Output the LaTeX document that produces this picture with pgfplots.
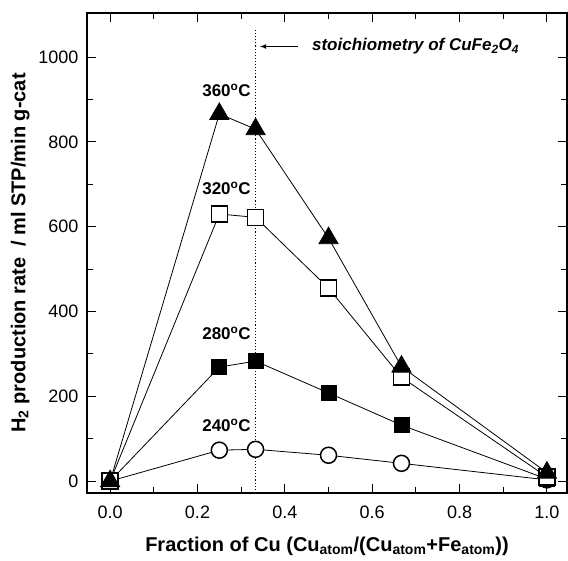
\documentclass[border=0pt]{standalone}
\usepackage{fontspec}
\setmainfont{Liberation Sans}
\usepackage{pgfplots}
\pgfplotsset{compat=1.18}
\usetikzlibrary{calc}
\begin{document}
\begin{tikzpicture}
\begin{axis}[
  name=ax,
  width=480pt, height=480pt, scale only axis,
  xmin=-0.053, xmax=1.046, ymin=-28, ymax=1104,
  xtick={0,0.2,0.4,0.6,0.8,1.0},
  minor xtick={0.1,0.3,0.5,0.7,0.9},
  ytick={0,200,400,600,800,1000},
  minor ytick={100,300,500,700,900},
  tick align=inside,
  major tick length=9pt, minor tick length=6pt,
  tick style={line width=1pt, black},
  axis line style={line width=1.2pt},
  xticklabel style={/pgf/number format/fixed, /pgf/number format/fixed zerofill, /pgf/number format/precision=1, yshift=-9pt},
  yticklabel style={/pgf/number format/1000 sep={}, xshift=-5pt},
  /pgf/number format/assume math mode=true,
  ticklabel style={font=\fontsize{18}{20}\selectfont},
  xlabel={\textbf{Fraction of Cu (Cu\textsubscript{atom}/(Cu\textsubscript{atom}+Fe\textsubscript{atom}))}},
  ylabel={\textbf{H\textsubscript{2} production rate \ / ml STP/min g-cat}},
  label style={font=\fontsize{20}{22}\selectfont},
  xlabel style={yshift=-12pt},
  ylabel style={yshift=2pt},
  clip=false,
]
\draw[dotted, line width=1.1pt] (axis cs:0.3333,-28) -- (axis cs:0.3333,1064);
\draw[-latex, line width=1.1pt] (axis cs:0.43,1025) -- (axis cs:0.343,1025);
\node[anchor=west, inner sep=0pt, font=\fontsize{17}{19}\selectfont\bfseries\itshape] at (axis cs:0.462,1025) {stoichiometry of CuFe\textsubscript{2}O\textsubscript{4}};
\node[anchor=east, font=\fontsize{17}{19}\selectfont\bfseries] at (axis cs:0.33,922) {360\textsuperscript{o}C};
\node[anchor=east, font=\fontsize{17}{19}\selectfont\bfseries] at (axis cs:0.33,691) {320\textsuperscript{o}C};
\node[anchor=east, font=\fontsize{17}{19}\selectfont\bfseries] at (axis cs:0.33,349) {280\textsuperscript{o}C};
\node[anchor=east, font=\fontsize{17}{19}\selectfont\bfseries] at (axis cs:0.33,132) {240\textsuperscript{o}C};
% 240 C
\addplot[black, line width=0.8pt, mark=*, mark size=8pt, mark options={fill=white, line width=1.5pt}]
  coordinates {(0,0) (0.25,73) (0.333,75) (0.5,61) (0.667,42) (1.0,3)};
% 280 C
\addplot[black, line width=0.8pt, mark=square*, mark size=7.5pt, mark options={fill=black}]
  coordinates {(0,0) (0.25,269) (0.333,283) (0.5,208) (0.667,132) (1.0,5)};
% 320 C
\addplot[black, line width=0.8pt, mark=square*, mark size=8pt, mark options={fill=white, line width=1.5pt}]
  coordinates {(0,0) (0.25,630) (0.333,622) (0.5,455) (0.667,245) (1.0,10)};
% 360 C
\addplot[black, line width=0.8pt, mark=triangle*, mark size=11pt, mark options={fill=black}]
  coordinates {(0,0) (0.25,866) (0.333,830) (0.5,573) (0.667,270) (1.0,20)};
\end{axis}
\pgfresetboundingbox
\useasboundingbox ($(ax.south west)+(-87pt,-67pt)$) rectangle ($(ax.north east)+(1pt,13pt)$);
\end{tikzpicture}
\end{document}
